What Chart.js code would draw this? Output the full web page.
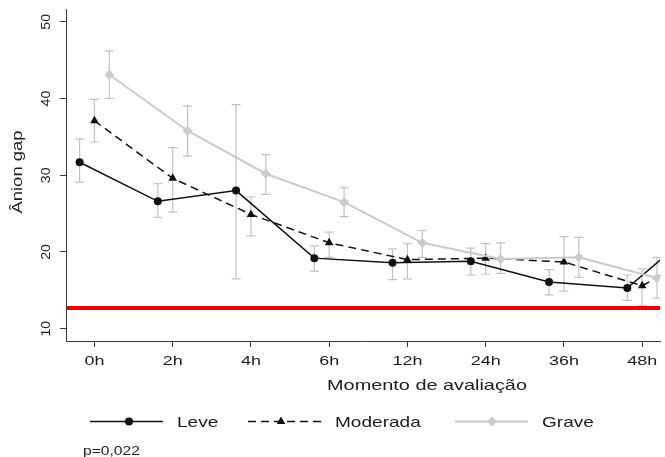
<!DOCTYPE html>
<html>
<head>
<meta charset="utf-8">
<script src="https://cdn.jsdelivr.net/npm/chart.js@4.4.1/dist/chart.umd.min.js"></script>
<style>
  html, body { margin: 0; padding: 0; background: #ffffff; overflow: hidden; }
  #c { display: block; }
</style>
</head>
<body>
<canvas id="c" width="665" height="457"></canvas>
<script>
// ---- data ----
const timeLabels = ['0h', '2h', '4h', '6h', '12h', '24h', '36h', '48h', '72h'];
const yTickValues = [10, 20, 30, 40, 50];
const seriesNames = ['Leve', 'Moderada', 'Grave'];

const leveMean  = [31.7, 26.6, 28.0, 19.2, 18.6, 18.8, 16.1, 15.3, 24.0];
const leveHigh  = [34.7, 28.9, 39.2, 20.8, 20.4, 20.5, 17.7, 17.0, 26.0];
const leveLow   = [29.1, 24.5, 16.5, 17.5, 16.4, 17.0, 14.4, 13.7, 22.0];

const modMean   = [37.1, 29.6, 24.9, 21.2, 19.0, 19.2, 18.7, 15.6, 21.3];
const modHigh   = [39.9, 33.6, 27.2, 22.6, 21.1, 21.1, 22.0, 17.8, 23.5];
const modLow    = [34.3, 25.2, 22.1, 19.3, 16.5, 17.1, 14.9, 13.0, 19.0];

const graveMean = [43.1, 35.8, 30.2, 26.5, 21.2, 19.1, 19.3, 16.6, 17.0];
const graveHigh = [46.2, 39.0, 32.7, 28.4, 22.8, 21.2, 21.9, 19.3, 19.0];
const graveLow  = [40.0, 32.5, 27.5, 24.6, 19.3, 17.2, 16.7, 14.0, 15.0];

const referenceLine = 12.7;
const pValueText = 'p=0,022';
const xTitle = 'Momento de avaliação';
const yTitle = 'Ânion gap';

// ---- presentation ----
const DODGE = 0.19;
const FONT = '"Liberation Sans", Arial, Helvetica, sans-serif';
const TEXT = '#1c1c1c';
const AXIS = '#3a3a3a';
const GREY = '#cbcbcb';
const ERR = '#c2c2c2';

function pts(vals, off) { return vals.map((v, i) => ({ x: i + 1 + off, y: v })); }

const seriesStyle = [
  { mean: leveMean,  low: leveLow,  high: leveHigh,  off: -DODGE, color: '#111111', dash: [],     width: 1.5, point: 'circle',   r: 4 },
  { mean: modMean,   low: modLow,   high: modHigh,   off: 0,      color: '#111111', dash: [8, 5], width: 1.5, point: 'triangle', r: 5 },
  { mean: graveMean, low: graveLow, high: graveHigh, off: DODGE,  color: GREY,      dash: [],     width: 2,   point: 'rectRot',  r: 5 }
];

function sText(ctx, txt, x, y, size, sx, align, rotate) {
  ctx.save();
  ctx.translate(x, y);
  if (rotate) ctx.rotate(-Math.PI / 2);
  ctx.scale(sx, 1);
  ctx.font = size + 'px ' + FONT;
  ctx.fillStyle = TEXT;
  ctx.textAlign = align;
  ctx.textBaseline = 'alphabetic';
  ctx.fillText(txt, 0, 0);
  ctx.restore();
}

const errorBars = {
  id: 'errorBars',
  beforeDatasetsDraw(chart) {
    const { ctx, chartArea: a, scales: { x, y } } = chart;
    ctx.save();
    ctx.beginPath();
    ctx.rect(a.left, a.top - 5, a.right - a.left, a.bottom - a.top + 10);
    ctx.clip();
    ctx.strokeStyle = ERR;
    ctx.lineWidth = 1.2;
    seriesStyle.forEach(s => {
      s.mean.forEach((m, i) => {
        const px = x.getPixelForValue(i + 1 + s.off);
        const y1 = y.getPixelForValue(s.high[i]);
        const y2 = y.getPixelForValue(s.low[i]);
        ctx.beginPath();
        ctx.moveTo(px, y1); ctx.lineTo(px, y2);
        ctx.moveTo(px - 4.5, y1); ctx.lineTo(px + 4.5, y1);
        ctx.moveTo(px - 4.5, y2); ctx.lineTo(px + 4.5, y2);
        ctx.stroke();
      });
    });
    ctx.restore();
  },
  afterDatasetsDraw(chart) {
    const { ctx, chartArea: a, scales: { y } } = chart;
    const py = y.getPixelForValue(referenceLine);
    ctx.save();
    ctx.strokeStyle = '#f20000';
    ctx.lineWidth = 4;
    ctx.beginPath();
    ctx.moveTo(a.left + 1, py);
    ctx.lineTo(a.right, py);
    ctx.stroke();
    ctx.restore();
  }
};

const texts = {
  id: 'texts',
  afterDraw(chart) {
    const { ctx, chartArea: a, scales: { x, y } } = chart;
    // y tick labels (rotated, R style)
    yTickValues.forEach(v => sText(ctx, String(v), 50, y.getPixelForValue(v), 13.5, 1.05, 'center', true));
    // x tick labels
    timeLabels.forEach((lab, i) => {
      if (i + 1 <= x.max) sText(ctx, lab, x.getPixelForValue(i + 1), 364.5, 13.5, 1.33, 'center', false);
    });
    // axis titles
    sText(ctx, yTitle, 21.5, 172, 15, 1.23, 'center', true);
    sText(ctx, xTitle, 427, 389.5, 14.5, 1.37, 'center', false);

    // legend
    const ly = 421.5;
    const items = [
      { s: seriesStyle[0], x1: 90,  x2: 163, px: 129, tx: 177 },
      { s: seriesStyle[1], x1: 248, x2: 323, px: 281, tx: 335 },
      { s: seriesStyle[2], x1: 455, x2: 528, px: 492, tx: 542 }
    ];
    items.forEach((it, k) => {
      ctx.save();
      ctx.strokeStyle = it.s.color;
      ctx.lineWidth = it.s.width;
      ctx.setLineDash(it.s.dash);
      ctx.beginPath();
      ctx.moveTo(it.x1, ly); ctx.lineTo(it.x2, ly);
      ctx.stroke();
      ctx.setLineDash([]);
      ctx.fillStyle = it.s.color;
      Chart.helpers.drawPoint(ctx, { pointStyle: it.s.point, radius: it.s.r, borderWidth: 0 }, it.px, ly);
      ctx.restore();
      sText(ctx, seriesNames[k], it.tx, 426.8, 15, 1.27, 'left', false);
    });
    sText(ctx, pValueText, 83, 454.5, 12.5, 1.25, 'left', false);
  }
};

const datasets = seriesStyle.map((s, k) => ({
  label: seriesNames[k],
  data: pts(s.mean, s.off),
  borderColor: s.color,
  backgroundColor: s.color,
  borderWidth: s.width,
  borderDash: s.dash,
  pointStyle: s.point,
  pointRadius: s.r,
  pointBorderWidth: 0,
  pointBackgroundColor: s.color,
  tension: 0,
  order: 3 - k
}));

new Chart(document.getElementById('c'), {
  type: 'line',
  data: { datasets },
  options: {
    responsive: false,
    animation: false,
    devicePixelRatio: 1,
    parsing: true,
    layout: { padding: { top: 9.5, right: 0, left: 0, bottom: 0 } },
    plugins: { legend: { display: false }, tooltip: { enabled: false } },
    scales: {
      x: {
        type: 'linear',
        min: 0.6363,
        max: 8.228,
        afterBuildTicks(scale) {
          scale.ticks = timeLabels.map((l, i) => ({ value: i + 1 })).filter(t => t.value <= 8.228);
        },
        afterFit(scale) { scale.height = 116; },
        ticks: { display: false },
        grid: { drawOnChartArea: false, drawTicks: true, tickLength: 6, color: AXIS, lineWidth: 1 },
        border: { display: true, color: AXIS, width: 1 }
      },
      y: {
        type: 'linear',
        min: 8.4,
        max: 51.6,
        afterBuildTicks(scale) {
          scale.ticks = yTickValues.map(v => ({ value: v }));
        },
        afterFit(scale) { scale.width = 66; },
        ticks: { display: false },
        grid: { drawOnChartArea: false, drawTicks: true, tickLength: 6, color: AXIS, lineWidth: 1 },
        border: { display: true, color: AXIS, width: 1 }
      }
    }
  },
  plugins: [errorBars, texts]
});
</script>
</body>
</html>
